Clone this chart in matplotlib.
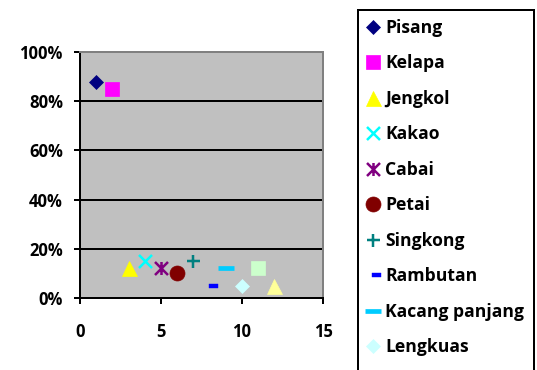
import matplotlib
matplotlib.use("Agg")
import matplotlib.pyplot as plt
from matplotlib.path import Path
from matplotlib.ticker import FuncFormatter

# Data
names = ["Pisang", "Kelapa", "Jengkol", "Kakao", "Cabai", "Petai", "Singkong",
         "Rambutan", "Kacang panjang", "Lengkuas", "", ""]
x_vals = [1, 2, 3, 4, 5, 6, 7, 8, 9, 10, 11, 12]
y_vals = [0.88, 0.85, 0.12, 0.15, 0.12, 0.10, 0.15, 0.05, 0.12, 0.05, 0.12, 0.05]
colors = ["#000080", "#FF00FF", "#FFFF00", "#00FFFF", "#800080", "#800000",
          "#008080", "#0000FF", "#00CCFF", "#CCFFFF", "#CCFFCC", "#FFFF99"]
x_ticks = [0, 5, 10, 15]
y_ticks = [0, 0.2, 0.4, 0.6, 0.8, 1.0]

FONT = "Open Sans"

# Excel-style marker shapes
star = Path([(-0.5, -0.5), (0.5, 0.5), (-0.5, 0.5), (0.5, -0.5), (0, -0.5), (0, 0.5)],
            [Path.MOVETO, Path.LINETO, Path.MOVETO, Path.LINETO, Path.MOVETO, Path.LINETO])
short_dash = Path([(-1.1, -2.5), (8.2, -2.5), (8.2, 2.5), (-1.1, 2.5), (-1.1, -2.5)],
                  [Path.MOVETO, Path.LINETO, Path.LINETO, Path.LINETO, Path.CLOSEPOLY])

px = 0.72  # points per pixel at 100 dpi
styles = [
    dict(marker="D", ms=9.5 * px, mew=0.5),
    dict(marker="s", ms=14.5 * px, mew=0.5),
    dict(marker="^", ms=15 * px, mew=0.5),
    dict(marker="x", ms=13 * px, mew=2.5 * px),
    dict(marker=star, ms=13 * px, mew=2.5 * px),
    dict(marker="o", ms=15 * px, mew=0.5),
    dict(marker="+", ms=13 * px, mew=2.5 * px),
    dict(marker=short_dash, ms=16.4 * px, mew=0.3),
    dict(marker="_", ms=16 * px, mew=4.7 * px),
    dict(marker="D", ms=10.5 * px, mew=0.5),
    dict(marker="s", ms=14.5 * px, mew=0.5),
    dict(marker="^", ms=15 * px, mew=0.5),
]

fig = plt.figure(figsize=(5.37, 3.70), dpi=100)
fig.patch.set_facecolor("white")
ax = fig.add_axes([80 / 537, 1 - 298 / 370, (323 - 80) / 537, (298 - 52) / 370])
ax.set_facecolor("#C0C0C0")

handles = []
for xv, yv, c, st in zip(x_vals, y_vals, colors, styles):
    h, = ax.plot([xv], [yv], linestyle="none", color=c, mfc=c, mec=c,
                 clip_on=False, zorder=3, **st)
    handles.append(h)

ax.set_xlim(0, 15)
ax.set_ylim(0, 1)
ax.set_xticks(x_ticks)
ax.set_yticks(y_ticks)
ax.yaxis.set_major_formatter(FuncFormatter(lambda v, p: f"{v * 100:.0f}%"))

ax.set_axisbelow(True)
ax.yaxis.grid(True, color="black", linewidth=2 * px)
ax.xaxis.grid(False)

for side in ("left", "bottom"):
    ax.spines[side].set_color("black")
    ax.spines[side].set_linewidth(2 * px)
for side in ("top", "right"):
    ax.spines[side].set_color("#808080")
    ax.spines[side].set_linewidth(2 * px)

ax.tick_params(axis="both", direction="out", length=6 * px, width=2 * px, color="black")
ax.tick_params(axis="y", pad=8)
ax.tick_params(axis="x", pad=14)
for lab in ax.get_xticklabels() + ax.get_yticklabels():
    lab.set_fontfamily(FONT)
    lab.set_fontweight("bold")
    lab.set_fontsize(12)

legend_top = 1 - 10 / 370
leg = fig.legend(handles, names, loc="upper left",
                 bbox_to_anchor=(358 / 537, legend_top - 0.01, (534 - 358) / 537, 0.01),
                 mode="expand", borderaxespad=0, frameon=True, fancybox=False,
                 borderpad=0.5, handlelength=0.69, handletextpad=0.38,
                 labelspacing=1.0, numpoints=1,
                 prop=dict(family=FONT, weight="bold", size=12.6))
frame = leg.get_frame()
frame.set_edgecolor("black")
frame.set_linewidth(2 * px)
frame.set_facecolor("white")
frame.set_alpha(1)

fig.savefig("out.png", dpi=100)
